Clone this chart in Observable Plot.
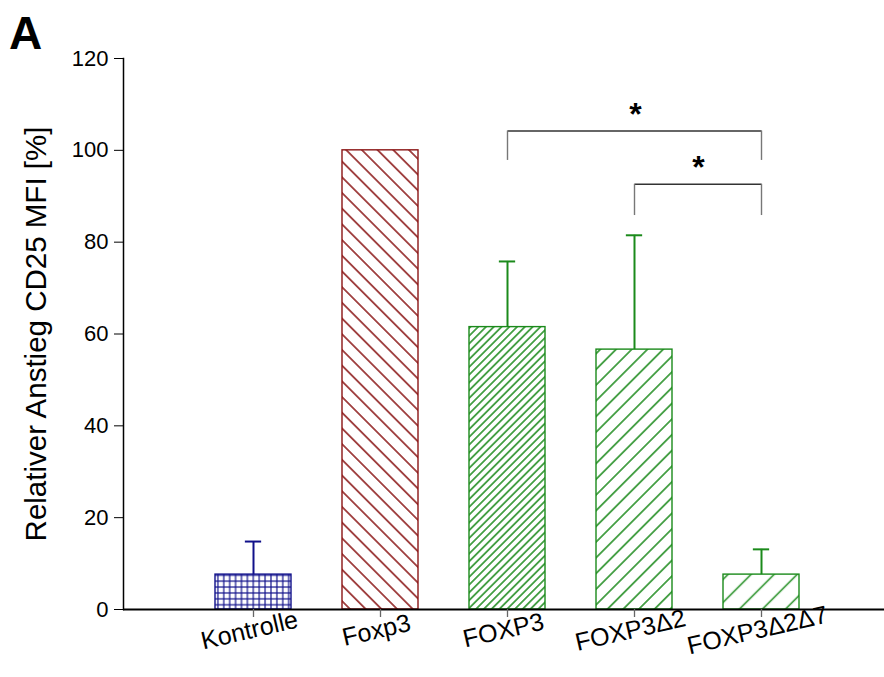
<!DOCTYPE html>
<html>
<head>
<meta charset="utf-8">
<script src="https://cdn.jsdelivr.net/npm/d3@7"></script>
<script src="https://cdn.jsdelivr.net/npm/@observablehq/plot@0.6"></script>
<style>
  body { margin: 0; background: #fff; font-family: "Liberation Sans", Arial, sans-serif; }
  #wrap { position: relative; width: 884px; height: 677px; }
  #panel { position: absolute; left: 9px; top: 10px; font-size: 46px; font-weight: bold; line-height: 1; color: #000; }
  #wrap svg { display: block; }
</style>
</head>
<body>
<div id="wrap"><div id="panel">A</div></div>
<script>
// Relative increase of CD25 MFI per construct (mean, mean + SD)
const groups = ["Kontrolle", "Foxp3", "FOXP3", "FOXP3Δ2", "FOXP3Δ2Δ7"];
const means  = [7.6, 100, 61.5, 56.6, 7.6];
const upper  = [14.8, null, 75.8, 81.5, 13.1];
const yTicks = [0, 20, 40, 60, 80, 100, 120];

// Significance comparisons (bracket level / foot level / star level in % units)
const compFrom  = ["FOXP3", "FOXP3Δ2"];
const compTo    = ["FOXP3Δ2Δ7", "FOXP3Δ2Δ7"];
const compLevel = [104.2, 92.6];
const compFoot  = [97.8, 85.8];
const compStarY = [107.8, 96.2];
const compText  = ["*", "*"];

// Colours and hatching per group
const colorOf = {
  "Kontrolle": "#10108a",
  "Foxp3": "#8a1414",
  "FOXP3": "#1b8a1b",
  "FOXP3Δ2": "#1b8a1b",
  "FOXP3Δ2Δ7": "#1b8a1b"
};
const hatchOf = {
  "Kontrolle": {kind: "grid", gap: 5.9},
  "Foxp3": {kind: "line", angle: -45, gap: 11.1},
  "FOXP3": {kind: "line", angle: 45, gap: 5.5},
  "FOXP3Δ2": {kind: "line", angle: 45, gap: 11.1},
  "FOXP3Δ2Δ7": {kind: "line", angle: 45, gap: 16.3}
};

const rows = groups.map((g, i) => ({group: g, mean: means[i], upper: upper[i], pid: `hatch${i}`}));
const errRows = rows.filter(d => d.upper != null);
const comps = compFrom.map((f, i) => ({from: f, to: compTo[i], level: compLevel[i], foot: compFoot[i], starY: compStarY[i], text: compText[i]}));

const xOpts = {type: "band", domain: groups, range: [149, 865], paddingInner: 0.4, paddingOuter: 0.5, align: 0.5};
const xs = Plot.scale({x: xOpts});
const bw = xs.bandwidth;

const W = 884, H = 677;
const chart = Plot.plot({
  width: W,
  height: H,
  marginLeft: 123,
  marginRight: 0,
  marginTop: 58,
  marginBottom: 68,
  style: {fontFamily: "'Liberation Sans', Arial, sans-serif", color: "#000", background: "#fff", overflow: "visible"},
  x: {...xOpts, axis: null},
  y: {domain: [0, 120], axis: null},
  color: {type: "identity"},
  marks: [
    // bars with hatching
    Plot.barY(rows, {x: "group", y: "mean", fill: d => `url(#${d.pid})`, stroke: d => colorOf[d.group], strokeWidth: 1.4}),
    // error bars (upper only) with caps
    Plot.ruleX(errRows, {x: "group", y1: "mean", y2: "upper", stroke: d => colorOf[d.group], strokeWidth: 2}),
    Plot.tickY(errRows, {x: "group", y: "upper", stroke: d => colorOf[d.group], strokeWidth: 2, inset: (bw - 17) / 2}),
    // y axis
    Plot.frame({anchor: "left", stroke: "#000", strokeWidth: 1.5}),
    Plot.axisY({ticks: yTicks, tickSize: 9, tickPadding: 6, fontSize: 22, label: null, tickFormat: d => d}),
    Plot.text(["Relativer Anstieg CD25 MFI [%]"], {frameAnchor: "left", dx: -87, rotate: -90, fontSize: 29.5, textAnchor: "middle", fill: "#000"}),
    // x axis
    Plot.ruleY([0], {stroke: "#000", strokeWidth: 2}),
    Plot.axisX({tickSize: 8, stroke: "#666", strokeWidth: 1.3, tickFormat: () => "", label: null}),
    Plot.text(groups, {x: d => d, frameAnchor: "bottom", dx: -4, dy: 21, rotate: -13, fontSize: 25, textAnchor: "middle", lineAnchor: "middle", fill: "#000"}),
    // significance brackets
    Plot.link(comps, {x1: "from", x2: "to", y1: "level", y2: "level", stroke: "#333", strokeWidth: 1.4}),
    Plot.ruleX(comps, {x: "from", y1: "foot", y2: "level", stroke: "#777", strokeWidth: 1.4}),
    Plot.ruleX(comps, {x: "to", y1: "foot", y2: "level", stroke: "#777", strokeWidth: 1.4}),
    ...comps.map(c => Plot.text([c], {x: "from", y: "starY", text: "text", fontSize: 32, fontWeight: "bold", fill: "#000",
      dx: (xs.apply(c.to) - xs.apply(c.from)) / 2}))
  ]
});

// hatch patterns for the bars
const svg = d3.select(chart);
const defs = svg.insert("defs", ":first-child");
rows.forEach(d => {
  const h = hatchOf[d.group], c = colorOf[d.group];
  const p = defs.append("pattern")
    .attr("id", d.pid)
    .attr("patternUnits", "userSpaceOnUse")
    .attr("width", h.gap)
    .attr("height", h.gap);
  p.append("rect").attr("width", h.gap).attr("height", h.gap).attr("fill", "#fff");
  if (h.kind === "grid") {
    p.attr("x", xs.apply(d.group) + 2);
    p.append("line").attr("x1", h.gap / 2).attr("x2", h.gap / 2).attr("y1", 0).attr("y2", h.gap).attr("stroke", c).attr("stroke-width", 1.2);
    p.append("line").attr("y1", h.gap / 2).attr("y2", h.gap / 2).attr("x1", 0).attr("x2", h.gap).attr("stroke", c).attr("stroke-width", 1.2);
  } else {
    p.attr("patternTransform", `rotate(${h.angle})`);
    p.append("line").attr("x1", h.gap / 2).attr("x2", h.gap / 2).attr("y1", 0).attr("y2", h.gap).attr("stroke", c).attr("stroke-width", 1.5);
  }
});

document.getElementById("wrap").appendChild(chart);
</script>
</body>
</html>
